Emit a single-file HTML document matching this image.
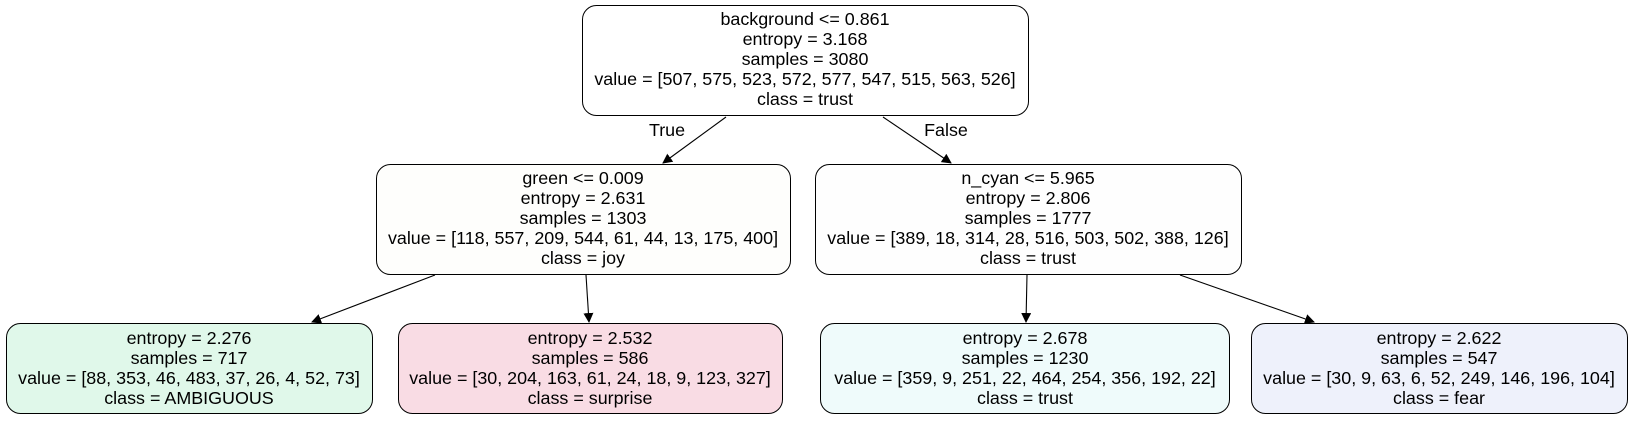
<!DOCTYPE html>
<html><head><meta charset="utf-8"><style>
html,body{margin:0;padding:0;background:#fff;}
svg text{font-family:"Liberation Sans",sans-serif;font-size:17.9px;fill:#000;text-anchor:middle;}
</style></head><body>
<svg width="1633" height="419" viewBox="0 0 1633 419" xmlns="http://www.w3.org/2000/svg">
<defs><marker id="ah" markerWidth="10" markerHeight="10" refX="9" refY="5" orient="auto" markerUnits="userSpaceOnUse"><path d="M0,0 L10,5 L0,10 z" fill="#000"/></marker></defs>
<g stroke="#000" stroke-width="1.1" fill="none">
<line x1="726" y1="117" x2="663" y2="163" marker-end="url(#ah)"/>
<line x1="883" y1="117" x2="951" y2="163" marker-end="url(#ah)"/>
<line x1="435" y1="275" x2="312" y2="322" marker-end="url(#ah)"/>
<line x1="586" y1="275" x2="589" y2="322" marker-end="url(#ah)"/>
<line x1="1027" y1="275" x2="1026" y2="322" marker-end="url(#ah)"/>
<line x1="1180" y1="275" x2="1314" y2="322" marker-end="url(#ah)"/>
</g>
<text x="667" y="136">True</text>
<text x="946" y="136">False</text>

<g>
<rect x="582.5" y="5.5" width="446" height="110" rx="14" fill="#ffffff" stroke="#000"/>
<text x="805" y="25">background &lt;= 0.861</text><text x="805" y="45">entropy = 3.168</text><text x="805" y="65">samples = 3080</text><text x="805" y="85">value = [507, 575, 523, 572, 577, 547, 515, 563, 526]</text><text x="805" y="105">class = trust</text>
</g>
<g>
<rect x="376.5" y="164.5" width="414" height="110" rx="14" fill="#fefefc" stroke="#000"/>
<text x="583" y="184">green &lt;= 0.009</text><text x="583" y="204">entropy = 2.631</text><text x="583" y="224">samples = 1303</text><text x="583" y="244">value = [118, 557, 209, 544, 61, 44, 13, 175, 400]</text><text x="583" y="264">class = joy</text>
</g>
<g>
<rect x="815.5" y="164.5" width="426" height="110" rx="14" fill="#fefefe" stroke="#000"/>
<text x="1028" y="184">n_cyan &lt;= 5.965</text><text x="1028" y="204">entropy = 2.806</text><text x="1028" y="224">samples = 1777</text><text x="1028" y="244">value = [389, 18, 314, 28, 516, 503, 502, 388, 126]</text><text x="1028" y="264">class = trust</text>
</g>
<g>
<rect x="6.5" y="323.5" width="366" height="90" rx="14" fill="#e0f8ea" stroke="#000"/>
<text x="189" y="344">entropy = 2.276</text><text x="189" y="364">samples = 717</text><text x="189" y="384">value = [88, 353, 46, 483, 37, 26, 4, 52, 73]</text><text x="189" y="404">class = AMBIGUOUS</text>
</g>
<g>
<rect x="398.5" y="323.5" width="384" height="90" rx="14" fill="#f9dce4" stroke="#000"/>
<text x="590" y="344">entropy = 2.532</text><text x="590" y="364">samples = 586</text><text x="590" y="384">value = [30, 204, 163, 61, 24, 18, 9, 123, 327]</text><text x="590" y="404">class = surprise</text>
</g>
<g>
<rect x="820.5" y="323.5" width="409" height="90" rx="14" fill="#effbfb" stroke="#000"/>
<text x="1025" y="344">entropy = 2.678</text><text x="1025" y="364">samples = 1230</text><text x="1025" y="384">value = [359, 9, 251, 22, 464, 254, 356, 192, 22]</text><text x="1025" y="404">class = trust</text>
</g>
<g>
<rect x="1251.5" y="323.5" width="376" height="90" rx="14" fill="#eef1fb" stroke="#000"/>
<text x="1439" y="344">entropy = 2.622</text><text x="1439" y="364">samples = 547</text><text x="1439" y="384">value = [30, 9, 63, 6, 52, 249, 146, 196, 104]</text><text x="1439" y="404">class = fear</text>
</g>
</svg>
</body></html>
